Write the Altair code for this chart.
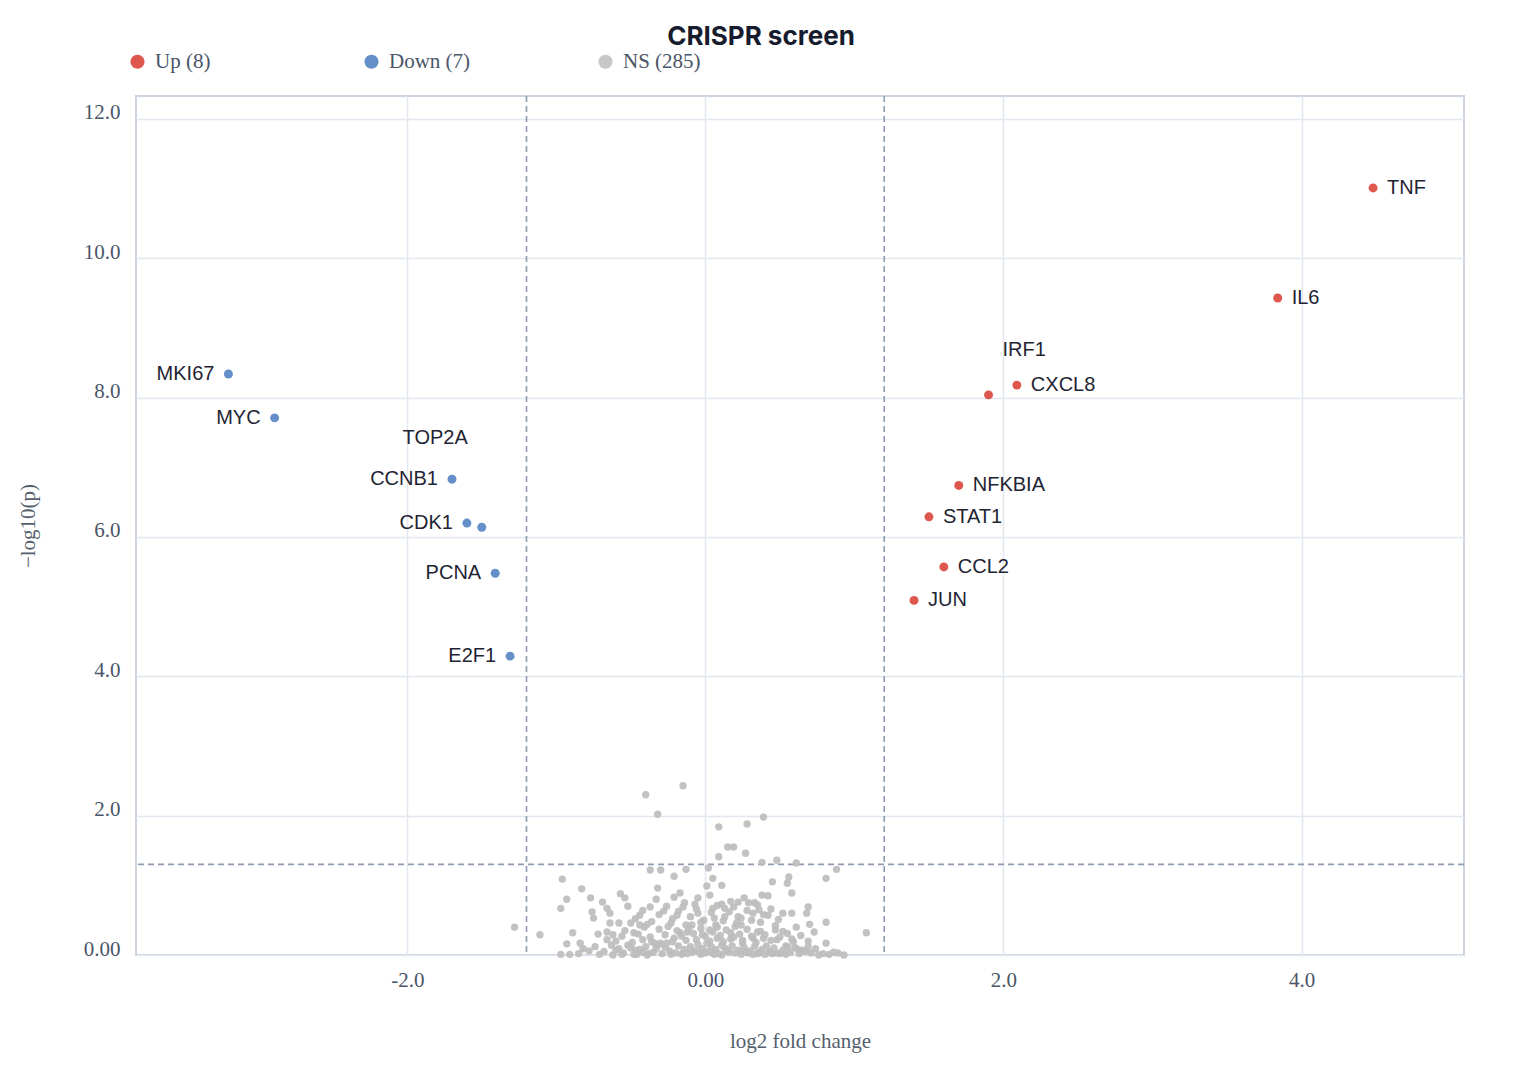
"""Volcano plot of a CRISPR screen"""

import altair as alt
import pandas as pd

PLOT_W = 1328
PLOT_H = 859
SERIF = "Liberation Serif"
SANS = "Liberation Sans"
UP_COLOR = "#d73a2f"
DOWN_COLOR = "#4a7bbf"
NS_COLOR = "#bdbdbd"
LABEL_COLOR = "#1f2433"

FC_CUTOFF = 1.2
P_CUTOFF = 0.05

UP_GENES = ["TNF", "IL6", "CXCL8", "IRF1", "NFKBIA", "STAT1", "CCL2", "JUN"]
UP_FC = [4.48, 3.84, 2.09, 1.90, 1.70, 1.50, 1.60, 1.40]
UP_LOGP = [11.01, 9.43, 8.18, 8.04, 6.74, 6.29, 5.57, 5.09]

DOWN_GENES = ["MKI67", "MYC", "CCNB1", "CDK1", "TOP2A", "PCNA", "E2F1"]
DOWN_FC = [-3.20, -2.89, -1.70, -1.60, -1.50, -1.41, -1.31]
DOWN_LOGP = [8.34, 7.71, 6.83, 6.20, 6.14, 5.48, 4.29]

# labels moved up so they do not collide with a neighbour (pixels)
LABEL_NUDGE = {"TOP2A": -89, "IRF1": -45}

NS_FC = [
    -0.40, -0.15, -0.32, -0.96, -0.83, -0.93, -0.97, -0.77, -0.69, -0.66,
    -0.76, -0.64, -0.75, -0.57, -0.54, -0.52, -0.37, -0.30, -0.21, -0.13,
    -0.32, -0.33, -0.37, -0.44, -0.28, -0.21, -0.17, -0.15, -0.19, -0.23,
    -0.13, -0.64, -0.58, -0.50, -0.44, -0.39, -1.28, -1.11, -0.89, -0.72,
    -0.66, -0.62, -0.56, -0.48, -0.42, -0.36, -0.30, -0.26, -0.21, -0.17,
    -0.93, -0.84, -0.82, -0.66, -0.60, -0.52, -0.47, -0.42, -0.97, -0.91,
    -0.71, -0.62, -0.56, -0.46, -0.39, -0.23, -0.15,
    0.39, 0.28, 0.09, 0.15, 0.19, 0.27, 0.09, 0.38, 0.48, 0.61,
    0.02, 0.88, 0.81, 0.56, 0.55, 0.45, 0.05, 0.01, 0.11, 0.58,
    0.38, 0.42, 0.03, -0.05, -0.07, 0.17, 0.22, 0.26, 0.29, 0.33,
    0.11, 0.13, 0.05, 0.69, 0.68, 0.52, 0.58, 0.42, 0.32, 0.36,
    -0.05, 0.06, 0.22, 0.13, 0.37, 0.21, 0.24, -0.03, -0.09, 0.07,
    0.70, 0.81, 0.61, 0.47, 0.52, 0.35, -0.12, -0.02, 0.03, 0.17,
    0.19, 0.08, 0.32, 0.39, 0.48, 0.59, 0.81, 1.08, 0.54, 0.65,
    0.01, 0.11, 0.25, 0.15, -0.09, 0.00, 0.05, 0.20, 0.29, 0.36,
    0.44, 0.48, 0.54, 0.76, 0.83, 0.89, 0.93, -0.03, 0.11, 0.40,
    -0.68, -0.55, -0.50, -0.44, -0.40, -0.35, -0.33, -0.29, -0.27, -0.24,
    -0.20, -0.18, -0.14, -0.12, -0.10, -0.07, -0.05, -0.02, 0.02, 0.04,
    0.07, 0.09, 0.13, 0.16, 0.18, 0.22, 0.24, 0.26, 0.30, 0.33,
    0.35, 0.38, 0.41, 0.43, 0.46, 0.50, 0.52, 0.57, 0.60, 0.63,
    0.67, 0.71, 0.74, 0.79, 0.86,
    -0.60, -0.54, -0.49, -0.45, -0.41, -0.37, -0.34, -0.31, -0.27, -0.25,
    -0.22, -0.19, -0.16, -0.13, -0.11, -0.08, -0.06, -0.03, 0.00, 0.03,
    0.05, 0.08, 0.10, 0.12, 0.14, 0.17, 0.20, 0.23, 0.25, 0.28,
    0.31, 0.34, 0.37, 0.40, 0.44, 0.47, 0.50, 0.55, 0.58, 0.64,
    0.69, 0.73,
    -0.47, -0.42, -0.36, -0.31, -0.26, -0.22, -0.18, -0.14, -0.10, -0.06,
    -0.01, 0.04, 0.08, 0.12, 0.16, 0.19, 0.24, 0.28, 0.31, 0.35,
    0.39, 0.44, 0.49,
    -0.85, -0.78, -0.74, -0.63, -0.58, -0.48, -0.38, -0.32, -0.16, -0.04,
    0.06, 0.14, 0.27, 0.32, 0.45, 0.55, 0.62, 0.69,
]
NS_LOGP = [
    2.30, 2.43, 2.02, 1.09, 0.95, 0.80, 0.67, 0.82, 0.76, 0.67,
    0.62, 0.60, 0.53, 0.88, 0.82, 0.70, 1.22, 1.22, 1.13, 1.23,
    0.96, 0.80, 0.69, 0.57, 0.63, 0.83, 0.89, 0.69, 0.57, 0.46,
    0.43, 0.46, 0.46, 0.46, 0.43, 0.44, 0.40, 0.29, 0.32, 0.30,
    0.33, 0.29, 0.27, 0.32, 0.22, 0.19, 0.17, 0.17, 0.24, 0.32,
    0.16, 0.17, 0.09, 0.22, 0.07, 0.14, 0.07, 0.04, 0.01, 0.01,
    0.01, 0.00, 0.01, 0.01, 0.00, 0.01, 0.03,
    1.98, 1.88, 1.84, 1.55, 1.55, 1.46, 1.41, 1.33, 1.36, 1.32,
    1.25, 1.23, 1.10, 1.12, 1.03, 1.05, 1.10, 0.99, 1.00, 0.89,
    0.86, 0.85, 0.86, 0.82, 0.73, 0.77, 0.76, 0.82, 0.75, 0.75,
    0.73, 0.67, 0.67, 0.69, 0.60, 0.60, 0.60, 0.57, 0.60, 0.65,
    0.60, 0.53, 0.55, 0.55, 0.47, 0.46, 0.43, 0.47, 0.43, 0.43,
    0.44, 0.47, 0.40, 0.36, 0.34, 0.33, 0.33, 0.29, 0.36, 0.32,
    0.26, 0.24, 0.24, 0.24, 0.22, 0.19, 0.17, 0.32, 0.13, 0.07,
    0.17, 0.14, 0.17, 0.07, 0.04, 0.03, 0.03, 0.03, 0.03, 0.03,
    0.03, 0.03, 0.01, 0.00, 0.01, 0.03, 0.00, 0.01, 0.00, 0.01,
    0.05, 0.03, 0.10, 0.08, 0.12, 0.04, 0.09, 0.02, 0.11, 0.06,
    0.03, 0.13, 0.08, 0.02, 0.12, 0.06, 0.15, 0.09, 0.05, 0.12,
    0.08, 0.02, 0.10, 0.04, 0.13, 0.07, 0.01, 0.11, 0.06, 0.12,
    0.02, 0.08, 0.13, 0.05, 0.10, 0.02, 0.07, 0.04, 0.11, 0.02,
    0.05, 0.03, 0.09, 0.02, 0.04,
    0.20, 0.35, 0.18, 0.30, 0.40, 0.26, 0.17, 0.37, 0.29, 0.41,
    0.19, 0.35, 0.27, 0.21, 0.39, 0.31, 0.22, 0.38, 0.27, 0.20,
    0.33, 0.40, 0.28, 0.19, 0.36, 0.23, 0.41, 0.30, 0.21, 0.37,
    0.27, 0.18, 0.34, 0.29, 0.21, 0.42, 0.26, 0.31, 0.23, 0.28,
    0.20, 0.33,
    0.52, 0.64, 0.48, 0.58, 0.70, 0.52, 0.63, 0.75, 0.55, 0.66,
    0.50, 0.61, 0.71, 0.49, 0.62, 0.69, 0.53, 0.64, 0.50, 0.72,
    0.58, 0.66, 0.51,
    0.02, 0.06, 0.12, 0.14, 0.09, 0.01, 0.02, 0.14, 0.01, 0.04,
    0.01, 0.06, 0.04, 0.01, 0.02, 0.12, 0.08, 0.12,
]

UP_LABEL = f"Up ({len(UP_GENES)})"
DOWN_LABEL = f"Down ({len(DOWN_GENES)})"
NS_LABEL = f"NS ({len(NS_FC)})"

ns_df = pd.DataFrame({"fc": NS_FC, "logp": NS_LOGP, "group": NS_LABEL})
sig_df = pd.concat(
    [
        pd.DataFrame({"gene": UP_GENES, "fc": UP_FC, "logp": UP_LOGP, "group": UP_LABEL}),
        pd.DataFrame({"gene": DOWN_GENES, "fc": DOWN_FC, "logp": DOWN_LOGP, "group": DOWN_LABEL}),
    ],
    ignore_index=True,
)

x_scale = alt.Scale(domain=[-3.82, 5.09], nice=False, zero=False)
y_scale = alt.Scale(domain=[0, 12.33], nice=False)
color_scale = alt.Scale(
    domain=[UP_LABEL, DOWN_LABEL, NS_LABEL],
    range=[UP_COLOR, DOWN_COLOR, NS_COLOR],
)

tick_fmt = "datum.value == 0 ? '0.00' : (datum.value < 0 ? '-' : '') + format(abs(datum.value), '.1f')"

x_enc = alt.X(
    "fc:Q",
    scale=x_scale,
    title="log2 fold change",
    axis=alt.Axis(values=[-2, 0, 2, 4], labelExpr=tick_fmt, labelPadding=14, titlePadding=40),
)
y_enc = alt.Y(
    "logp:Q",
    scale=y_scale,
    title="\u2212log10(p)",
    axis=alt.Axis(
        values=[0, 2, 4, 6, 8, 10, 12], labelExpr=tick_fmt,
        labelPadding=16, labelOffset=-6, titlePadding=45,
    ),
)
color_enc = alt.Color(
    "group:N",
    scale=color_scale,
    legend=alt.Legend(
        title=None, orient="none", legendX=-9, legendY=-45, direction="horizontal",
        columns=3, gridAlign="all", columnPadding=124, symbolSize=200,
        symbolType="circle", symbolOpacity=1, symbolStrokeWidth=0,
        labelFont=SERIF, labelFontSize=21, labelColor="#4a5568", labelOffset=7,
    ),
)

ns_points = (
    alt.Chart(ns_df)
    .mark_circle(size=54, opacity=0.92)
    .encode(x=x_enc, y=y_enc, color=color_enc)
)

sig_points = (
    alt.Chart(sig_df)
    .mark_circle(size=80, opacity=0.85)
    .encode(x="fc:Q", y="logp:Q", color=alt.Color("group:N", scale=color_scale))
)


def gene_labels(group, align, dx):
    """Labels beside the significant genes, nudged ones drawn in their own layer."""
    nudged = list(LABEL_NUDGE)
    base = (
        alt.Chart(sig_df)
        .transform_filter(alt.datum.group == group)
        .transform_filter(alt.FieldOneOfPredicate(field="gene", oneOf=nudged).__invert__())
        .mark_text(align=align, baseline="middle", dx=dx, font=SANS, fontSize=20, color=LABEL_COLOR)
        .encode(x="fc:Q", y="logp:Q", text="gene:N")
    )
    layers = [base]
    for gene, dy in LABEL_NUDGE.items():
        layers.append(
            alt.Chart(sig_df)
            .transform_filter(alt.datum.group == group)
            .transform_filter(alt.datum.gene == gene)
            .mark_text(align=align, baseline="middle", dx=dx, dy=dy, font=SANS, fontSize=20, color=LABEL_COLOR)
            .encode(x="fc:Q", y="logp:Q", text="gene:N")
        )
    return layers


vcut = (
    alt.Chart(pd.DataFrame({"fc": [-FC_CUTOFF, FC_CUTOFF]}))
    .mark_rule(color="#8e9bb0", strokeWidth=1.6, strokeDash=[6, 4])
    .encode(x="fc:Q")
)

hcut = (
    alt.Chart(pd.DataFrame({"p": [P_CUTOFF]}))
    .transform_calculate(logp="-log(datum.p) / LN10")
    .mark_rule(color="#8e9bb0", strokeWidth=1.6, strokeDash=[6, 4])
    .encode(y="logp:Q")
)

chart = (
    alt.layer(
        vcut, hcut, ns_points, sig_points,
        *gene_labels(UP_LABEL, "left", 14),
        *gene_labels(DOWN_LABEL, "right", -14),
    )
    .properties(
        width=PLOT_W,
        height=PLOT_H,
        title=alt.Title(
            "CRISPR screen", font="Inter", fontSize=26, fontWeight="bold",
            color="#161b2e", anchor="middle", dx=-39, offset=1,
        ),
        autosize=alt.AutoSizeParams(type="none"),
        padding={"left": 128, "top": 88, "right": 40, "bottom": 110},
    )
    .configure_view(stroke="#cdd5e0", strokeWidth=2)
    .configure_axis(
        grid=True, gridColor="#e3e8f0", gridWidth=1.5, domain=False, ticks=False,
        labelFont=SERIF, labelFontSize=21, labelColor="#4a5568",
        titleFont=SERIF, titleFontSize=21, titleFontWeight="normal", titleColor="#555f6d",
    )
)

chart.save("out.html", embed_options={"renderer": "svg", "actions": False})
